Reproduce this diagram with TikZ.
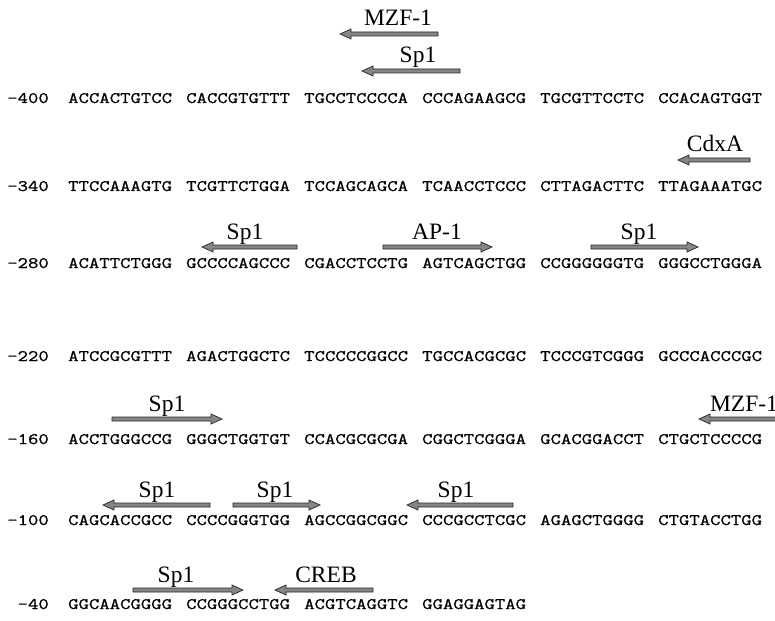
\documentclass[tikz,border=0pt]{standalone}
\usepackage{fontspec}
\setmainfont{Liberation Serif}
\newfontfamily\seqfont[FakeStretch=1.26,FakeBold=1]{Latin Modern Mono}
\tikzset{
  x=1pt, y=-1pt,
  seq/.style={font=\seqfont\fontsize{16}{18}\selectfont, inner sep=0pt, anchor=base west},
  num/.style={font=\seqfont\fontsize{16}{18}\selectfont, inner sep=0pt, anchor=base east},
  lab/.style={font=\fontsize{23.5}{26}\selectfont, inner sep=0pt, anchor=base},
  sitearrow/.style={fill=gray!95, draw=black!85, line width=0.7pt, line join=miter}
}
% right-pointing site: name, tail x, tip x, y, label x, label
\newcommand\siteR[6]{%
  \filldraw[sitearrow] (#2,#4-2) -- (#3-11,#4-2) -- (#3-11,#4-5) -- (#3,#4)
     -- (#3-11,#4+5) -- (#3-11,#4+2) -- (#2,#4+2) -- cycle;
  \node[lab] (#1) at (#5,#4-8) {#6};}
% left-pointing site: name, tail x, tip x, y, label x, label
\newcommand\siteL[6]{%
  \filldraw[sitearrow] (#2,#4-2) -- (#3+11,#4-2) -- (#3+11,#4-5) -- (#3,#4)
     -- (#3+11,#4+5) -- (#3+11,#4+2) -- (#2,#4+2) -- cycle;
  \node[lab] (#1) at (#5,#4-8) {#6};}
\begin{document}
\begin{tikzpicture}
\path[use as bounding box] (0,0) rectangle (775,620);
\clip (0,0) rectangle (775,620);
\fill[white] (0,0) rectangle (775,620);

% sequence rows
\foreach \yy/\nn/\ga/\gb/\gc/\gd/\ge/\gf in {
  103/400/ACCACTGTCC/CACCGTGTTT/TGCCTCCCCA/CCCAGAAGCG/TGCGTTCCTC/CCACAGTGGT,
  191/340/TTCCAAAGTG/TCGTTCTGGA/TCCAGCAGCA/TCAACCTCCC/CTTAGACTTC/TTAGAAATGC,
  268/280/ACATTCTGGG/GCCCCAGCCC/CGACCTCCTG/AGTCAGCTGG/CCGGGGGGTG/GGGCCTGGGA,
  361/220/ATCCGCGTTT/AGACTGGCTC/TCCCCCGGCC/TGCCACGCGC/TCCCGTCGGG/GCCCACCCGC,
  444/160/ACCTGGGCCG/GGGCTGGTGT/CCACGCGCGA/CGGCTCGGGA/GCACGGACCT/CTGCTCCCCG,
  525/100/CAGCACCGCC/CCCCGGGTGG/AGCCGGCGGC/CCCGCCTCGC/AGAGCTGGGG/CTGTACCTGG}{
  \node[num] (n\nn) at (49,\yy) {-\nn};
  \node[seq] (g\nn-1) at (68,\yy) {\ga};
  \node[seq] (g\nn-2) at (186,\yy) {\gb};
  \node[seq] (g\nn-3) at (304,\yy) {\gc};
  \node[seq] (g\nn-4) at (422,\yy) {\gd};
  \node[seq] (g\nn-5) at (540,\yy) {\ge};
  \node[seq] (g\nn-6) at (658,\yy) {\gf};
}
\node[num] (n40) at (49,609) {-40};
\node[seq] (g40-1) at (68,609) {GGCAACGGGG};
\node[seq] (g40-2) at (186,609) {CCGGGCCTGG};
\node[seq] (g40-3) at (304,609) {ACGTCAGGTC};
\node[seq] (g40-4) at (422,609) {GGAGGAGTAG};

% binding sites
\siteL{mzfa}{438}{340}{34}{398}{MZF-1}
\siteL{spa}{460}{362}{71}{418}{Sp1}
\siteL{cdx}{750}{678}{160}{715}{CdxA}
\siteL{spb}{297}{202}{247}{245}{Sp1}
\siteR{ap}{383}{492}{247}{437}{AP-1}
\siteR{spc}{591}{698}{247}{639}{Sp1}
\siteR{spd}{112}{222}{419}{167}{Sp1}
\siteL{mzfb}{800}{699}{419}{744}{MZF-1}
\siteL{spe}{210}{103}{505}{157}{Sp1}
\siteR{spf}{233}{320}{505}{275}{Sp1}
\siteL{spg}{513}{407}{505}{456}{Sp1}
\siteR{sph}{133}{243}{590}{176}{Sp1}
\siteL{creb}{373}{275}{590}{326}{CREB}
\end{tikzpicture}
\end{document}
